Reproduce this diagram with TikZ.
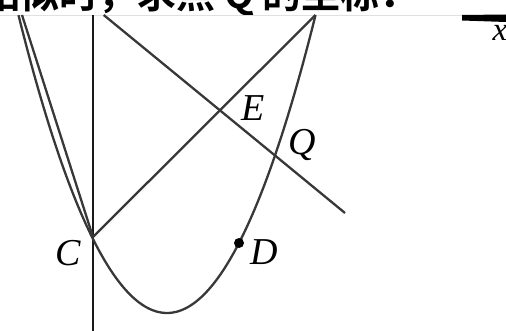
\documentclass[tikz,border=0pt]{standalone}
\usepackage{fontspec}
\setmainfont{Liberation Serif}
\newfontfamily\cjk{Noto Sans CJK SC}[BoldFont={Noto Sans CJK SC Bold}]
\begin{document}
\begin{tikzpicture}[x=1pt,y=-1pt,
  curve/.style={line width=2.3pt,draw=black!78},
  axisline/.style={line width=2.4pt,draw=black!90},
  lbl/.style={font=\fontsize{38}{38}\selectfont\itshape,inner sep=0pt},
  hdr/.style={font=\cjk\bfseries\fontsize{39}{39}\selectfont,inner sep=0pt,anchor=base west}]
\useasboundingbox (0,0) rectangle (506,331);
% header text (cropped at the top, as in the reference)
\node[hdr] (title) at (-19,9) {相似时，求点 Q 的坐标．};
% x-axis
\coordinate (X0) at (0,15);
\coordinate (X1) at (462,15);
\draw[line width=0.8pt,draw=black!12] (X0) -- (X1);
\fill[black] (462,15) -- (506,14.5) -- (506,22) -- (462,20.5) -- cycle;
\node[font=\fontsize{33}{33}\selectfont\itshape,inner sep=0pt] (xl) at (500,33) {x};
% y-axis
\coordinate (Ytop) at (93,15);
\coordinate (Ybot) at (93,331);
\draw[axisline] (Ytop) -- (Ybot);
% points
\coordinate (A) at (22,15);
\coordinate (B) at (315.5,15);
\coordinate (C) at (93,237);
\coordinate (D) at (239,243);
\coordinate (Q) at (275,155.5);
\coordinate (P1) at (103.7,15);
\coordinate (P2) at (345,213);
% parabola
\draw[curve] plot[domain=18.5:315.5,samples=120] (\x,{313-(0.0135*(\x-167))*(\x-167)});
% lines
\draw[curve] (A) -- (C);
\draw[curve] (C) -- (B);
\draw[curve] (P1) -- (Q) -- (P2);
% dot D
\fill[black] (D) circle (5);
% labels
\node[lbl] (labC) at (68,253) {C};
\node[lbl] (labD) at (264,252) {D};
\node[lbl] (labE) at (253,108) {E};
\node[lbl] (labQ) at (302,145) {Q};
\end{tikzpicture}
\end{document}
